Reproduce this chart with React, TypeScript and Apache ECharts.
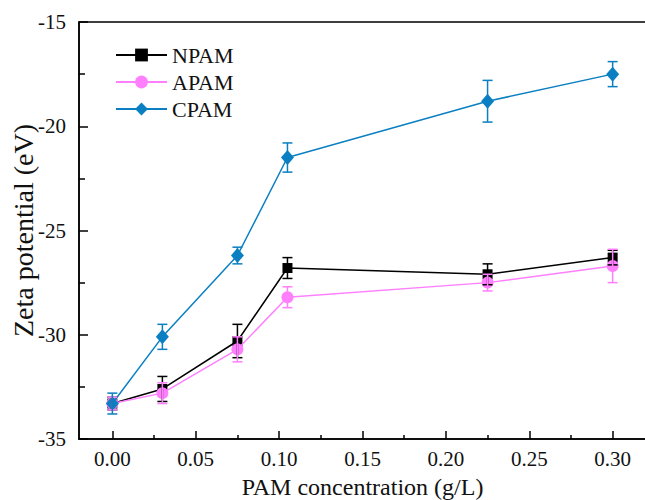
import React, { useEffect, useRef } from "react";
import * as echarts from "echarts";

const concentrations = [0, 0.03, 0.075, 0.105, 0.225, 0.3];
const npam = [-33.3, -32.6, -30.3, -26.8, -27.1, -26.3];
const npamErr = [0.3, 0.6, 0.8, 0.5, 0.5, 0.35];
const apam = [-33.3, -32.8, -30.7, -28.2, -27.5, -26.7];
const apamErr = [0.3, 0.5, 0.6, 0.5, 0.4, 0.8];
const cpam = [-33.3, -30.1, -26.2, -21.5, -18.8, -17.5];
const cpamErr = [0.5, 0.6, 0.4, 0.7, 1.0, 0.6];
const xMajorTicks = [0, 0.05, 0.1, 0.15, 0.2, 0.25, 0.3];
const xMinorTicks = [0.025, 0.075, 0.125, 0.175, 0.225, 0.275];
const seriesNames = ["NPAM", "APAM", "CPAM"];

const FONT = "'Liberation Serif', 'Times New Roman', serif";
const BLACK = "#000000";
const PINK = "#ff7fff";
const BLUE = "#0a7fc2";

function lineSeries(name: string, values: number[], color: string, symbol: string, size: any, z: number) {
  return {
    type: "line",
    name,
    data: concentrations.map((x, i) => [x, values[i]]),
    symbol,
    symbolSize: size,
    showAllSymbol: true,
    itemStyle: { color, opacity: 1 },
    lineStyle: { color, width: 1.5 },
    z,
  };
}

function errorSeries(name: string, values: number[], errs: number[], color: string, z: number) {
  return {
    type: "custom",
    name: name + " error",
    data: concentrations.map((x, i) => [x, values[i] - errs[i], values[i] + errs[i]]),
    renderItem: (params: any, api: any) => {
      const x = api.value(0);
      const lo = api.coord([x, api.value(1)]);
      const hi = api.coord([x, api.value(2)]);
      const hw = 5;
      const style = { stroke: color, lineWidth: 1.5, fill: null };
      return {
        type: "group",
        children: [
          { type: "line", shape: { x1: lo[0], y1: lo[1], x2: hi[0], y2: hi[1] }, style },
          { type: "line", shape: { x1: lo[0] - hw, y1: lo[1], x2: lo[0] + hw, y2: lo[1] }, style },
          { type: "line", shape: { x1: hi[0] - hw, y1: hi[1], x2: hi[0] + hw, y2: hi[1] }, style },
        ],
      };
    },
    encode: { x: 0, y: [1, 2] },
    silent: true,
    z,
  };
}

export default function App() {
  const ref = useRef<HTMLDivElement>(null);
  useEffect(() => {
    if (!ref.current) return;
    const chart = echarts.init(ref.current, null, { renderer: "svg" });
    chart.setOption({
      animation: false,
      backgroundColor: "#ffffff",
      textStyle: { fontFamily: FONT },
      grid: {
        left: 79,
        top: 22,
        right: -1,
        bottom: 61,
        containLabel: false,
        outerBoundsMode: "none",
        show: true,
        borderColor: BLACK,
        borderWidth: 1.5,
        backgroundColor: "transparent",
      },
      legend: {
        data: seriesNames,
        orient: "vertical",
        left: 115,
        top: 44,
        padding: 0,
        itemWidth: 51,
        itemHeight: 16,
        itemGap: 5,
        textStyle: { fontFamily: FONT, fontSize: 22, color: "#111" },
      },
      xAxis: [
        {
          type: "value",
          min: -0.02,
          max: 0.32,
          position: "bottom",
          splitLine: { show: false },
          axisLine: { show: true, onZero: false, lineStyle: { color: BLACK, width: 1.5 } },
          axisTick: { show: true, inside: true, length: 8, customValues: xMajorTicks, lineStyle: { color: BLACK, width: 1.5 } },
          axisLabel: {
            show: true,
            customValues: xMajorTicks,
            margin: 9,
            fontSize: 21,
            color: "#111",
            fontFamily: FONT,
            formatter: (v: number) => v.toFixed(2),
          },
          name: "PAM concentration (g/L)",
          nameLocation: "middle",
          nameGap: 36,
          nameMoveOverlap: false,
          nameTextStyle: { fontSize: 24, color: "#111", fontFamily: FONT },
        },
        {
          type: "value",
          min: -0.02,
          max: 0.32,
          position: "bottom",
          splitLine: { show: false },
          axisLine: { show: false },
          axisLabel: { show: false },
          axisTick: { show: true, inside: true, length: 4, customValues: xMinorTicks, lineStyle: { color: BLACK, width: 1.5 } },
        },
      ],
      yAxis: {
        type: "value",
        min: -35,
        max: -15,
        interval: 5,
        splitLine: { show: false },
        axisLine: { show: true, onZero: false, lineStyle: { color: BLACK, width: 1.5 } },
        axisTick: { show: true, inside: true, length: 9, lineStyle: { color: BLACK, width: 1.5 } },
        minorTick: { show: true, splitNumber: 2, length: 6, lineStyle: { color: BLACK, width: 1.5 } },
        axisLabel: { margin: 13, fontSize: 21, color: "#111", fontFamily: FONT },
        name: "Zeta potential (eV)",
        nameLocation: "middle",
        nameGap: 42,
        nameMoveOverlap: false,
        nameTextStyle: { fontSize: 28, color: "#111", fontFamily: FONT },
      },
      series: [
        lineSeries("NPAM", npam, BLACK, "rect", 10, 2),
        lineSeries("APAM", apam, PINK, "circle", 12, 3),
        lineSeries("CPAM", cpam, BLUE, "diamond", [13, 15], 4),
        errorSeries("NPAM", npam, npamErr, BLACK, 5),
        errorSeries("APAM", apam, apamErr, PINK, 5),
        errorSeries("CPAM", cpam, cpamErr, BLUE, 6),
      ],
    });
    return () => chart.dispose();
  }, []);
  return (
    <div
      ref={ref}
      style={{ position: "fixed", left: 0, top: 0, width: 645, height: 500 }}
    />
  );
}
